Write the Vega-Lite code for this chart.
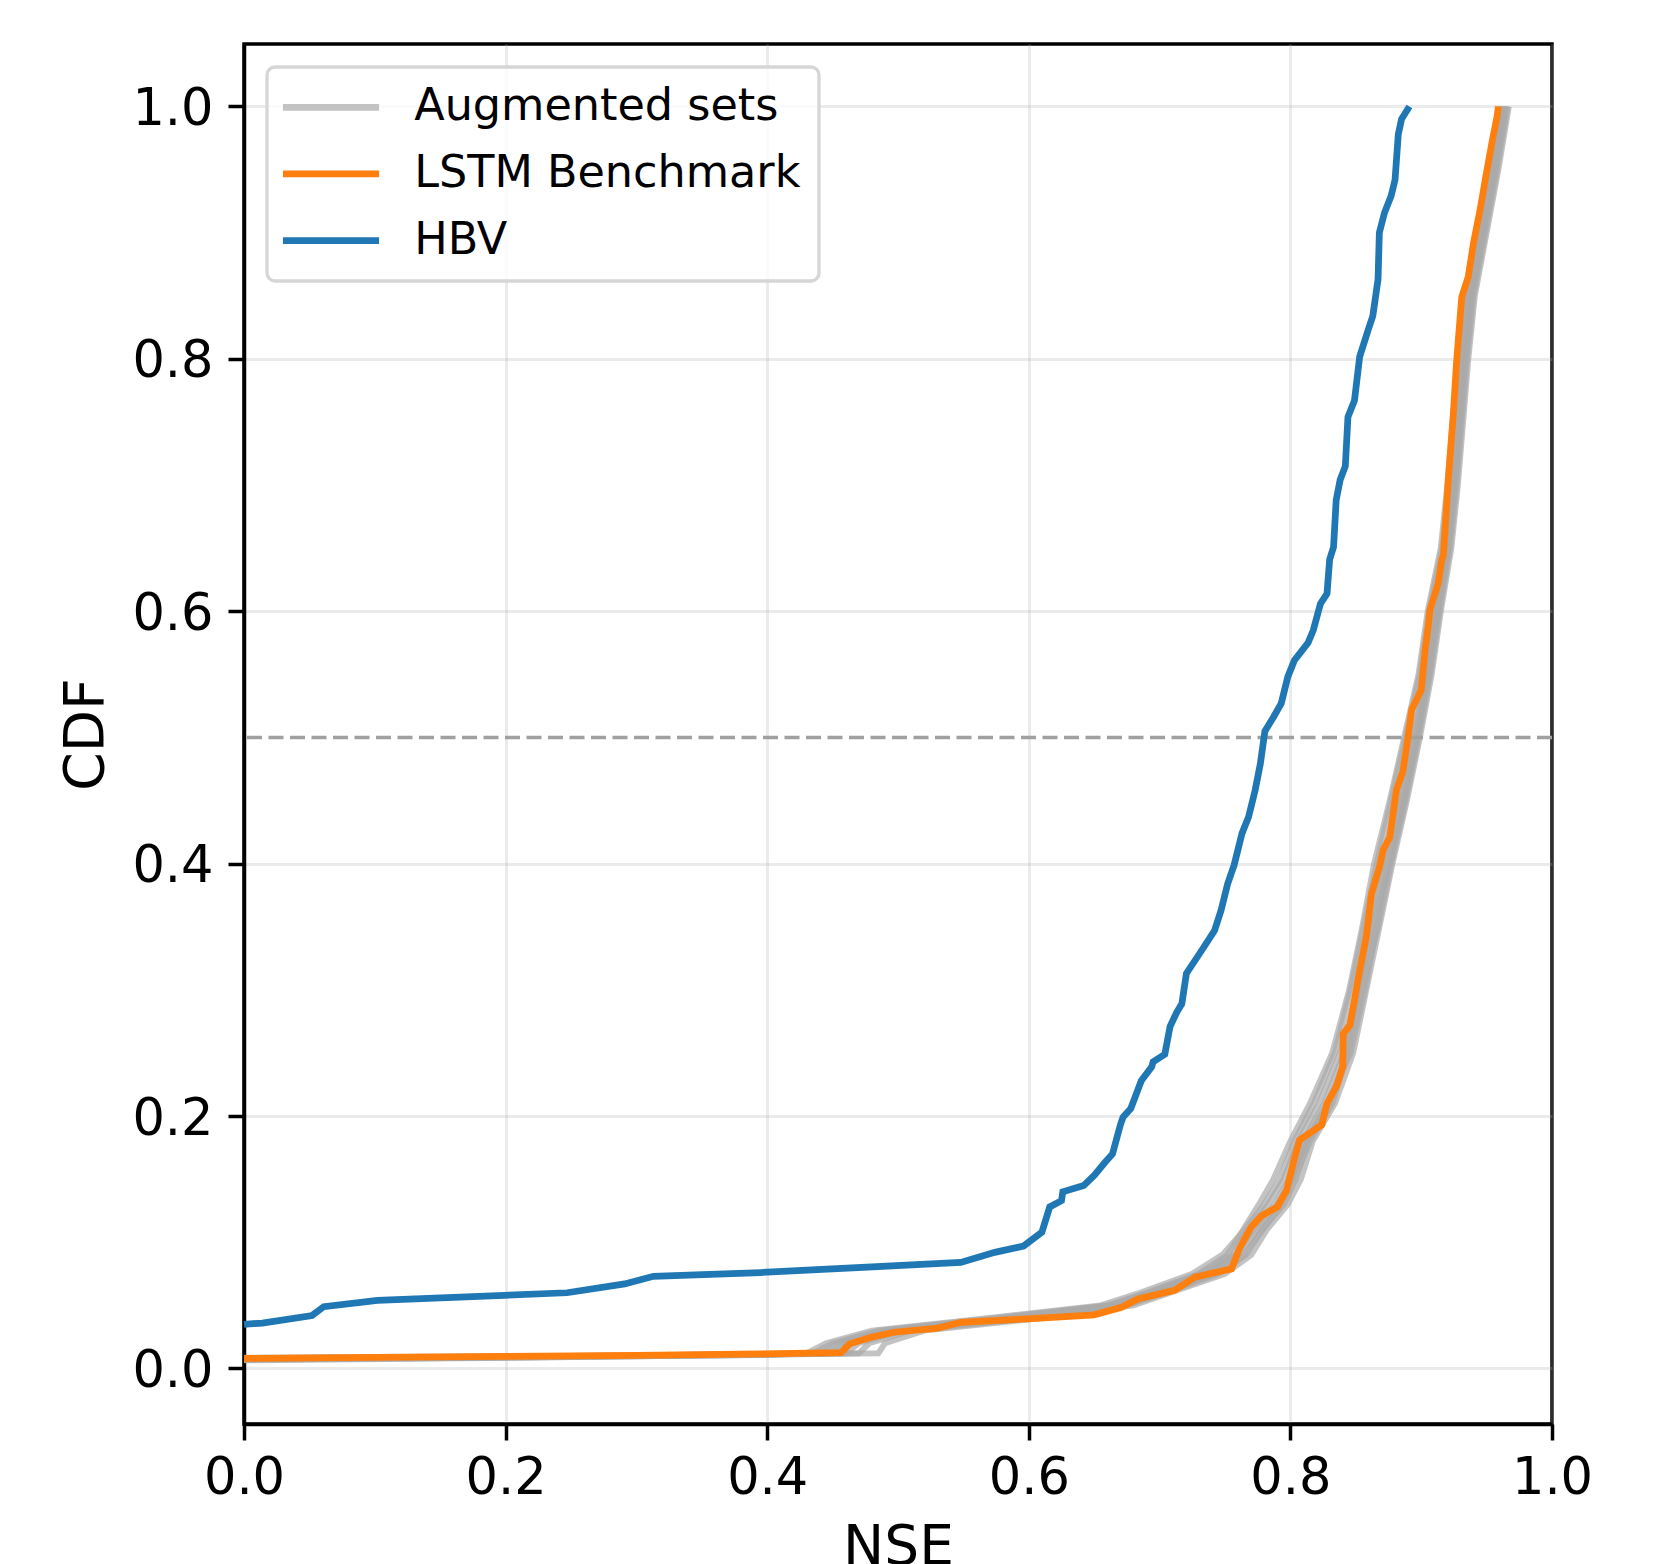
{
  "$schema": "https://vega.github.io/schema/vega-lite/v6.json",
  "width": 1308,
  "height": 1380,
  "autosize": {"type": "none"},
  "padding": {"left": 244, "top": 44, "right": 121, "bottom": 140},
  "background": "white",
  "config": {
    "font": "DejaVu Sans",
    "view": {"stroke": "black", "strokeWidth": 3.5},
    "axis": {
      "domainColor": "black",
      "domainWidth": 3.5,
      "tickColor": "black",
      "tickWidth": 3.5,
      "tickSize": 16,
      "labelFont": "DejaVu Sans",
      "labelFontSize": 51,
      "labelColor": "black",
      "labelFlush": false,
      "titleFont": "DejaVu Sans",
      "titleFontSize": 55,
      "titleFontWeight": "normal",
      "titleColor": "black",
      "gridColor": "#b0b0b0",
      "gridOpacity": 0.25,
      "gridWidth": 3
    },
    "legend": {
      "labelFont": "DejaVu Sans",
      "labelFontSize": 44.5,
      "labelColor": "black",
      "labelLimit": 0,
      "strokeWidth": 3.3
    }
  },
  "datasets": {
    "aug": [
      {"run": "g1", "nse": 0.0, "cdf": 0.0065}, {"run": "g1", "nse": 0.25, "cdf": 0.009}, {"run": "g1", "nse": 0.40, "cdf": 0.011},
      {"run": "g1", "nse": 0.43, "cdf": 0.012}, {"run": "g1", "nse": 0.445, "cdf": 0.02}, {"run": "g1", "nse": 0.48, "cdf": 0.03}, {"run": "g1", "nse": 0.57, "cdf": 0.04}, {"run": "g1", "nse": 0.655, "cdf": 0.05}, {"run": "g1", "nse": 0.685, "cdf": 0.06}, {"run": "g1", "nse": 0.725, "cdf": 0.075}, {"run": "g1", "nse": 0.748, "cdf": 0.09}, {"run": "g1", "nse": 0.765, "cdf": 0.11}, {"run": "g1", "nse": 0.78, "cdf": 0.13}, {"run": "g1", "nse": 0.792, "cdf": 0.15}, {"run": "g1", "nse": 0.803, "cdf": 0.18}, {"run": "g1", "nse": 0.818, "cdf": 0.21}, {"run": "g1", "nse": 0.834, "cdf": 0.25}, {"run": "g1", "nse": 0.846, "cdf": 0.30}, {"run": "g1", "nse": 0.856, "cdf": 0.35}, {"run": "g1", "nse": 0.866, "cdf": 0.40}, {"run": "g1", "nse": 0.877, "cdf": 0.45}, {"run": "g1", "nse": 0.888, "cdf": 0.50}, {"run": "g1", "nse": 0.899, "cdf": 0.55}, {"run": "g1", "nse": 0.906, "cdf": 0.60}, {"run": "g1", "nse": 0.916, "cdf": 0.65}, {"run": "g1", "nse": 0.921, "cdf": 0.70}, {"run": "g1", "nse": 0.925, "cdf": 0.75}, {"run": "g1", "nse": 0.929, "cdf": 0.80}, {"run": "g1", "nse": 0.934, "cdf": 0.85}, {"run": "g1", "nse": 0.943, "cdf": 0.90}, {"run": "g1", "nse": 0.952, "cdf": 0.95}, {"run": "g1", "nse": 0.961, "cdf": 1.0},

      {"run": "g2", "nse": 0.0, "cdf": 0.0075}, {"run": "g2", "nse": 0.25, "cdf": 0.0095}, {"run": "g2", "nse": 0.40, "cdf": 0.0112},
      {"run": "g2", "nse": 0.445, "cdf": 0.012}, {"run": "g2", "nse": 0.46, "cdf": 0.02}, {"run": "g2", "nse": 0.495, "cdf": 0.03}, {"run": "g2", "nse": 0.585, "cdf": 0.04}, {"run": "g2", "nse": 0.665, "cdf": 0.05}, {"run": "g2", "nse": 0.695, "cdf": 0.06}, {"run": "g2", "nse": 0.735, "cdf": 0.075}, {"run": "g2", "nse": 0.758, "cdf": 0.09}, {"run": "g2", "nse": 0.772, "cdf": 0.11}, {"run": "g2", "nse": 0.788, "cdf": 0.13}, {"run": "g2", "nse": 0.799, "cdf": 0.15}, {"run": "g2", "nse": 0.81, "cdf": 0.18}, {"run": "g2", "nse": 0.826, "cdf": 0.21}, {"run": "g2", "nse": 0.841, "cdf": 0.25}, {"run": "g2", "nse": 0.853, "cdf": 0.30}, {"run": "g2", "nse": 0.862, "cdf": 0.35}, {"run": "g2", "nse": 0.872, "cdf": 0.40}, {"run": "g2", "nse": 0.884, "cdf": 0.45}, {"run": "g2", "nse": 0.894, "cdf": 0.50}, {"run": "g2", "nse": 0.904, "cdf": 0.55}, {"run": "g2", "nse": 0.911, "cdf": 0.60}, {"run": "g2", "nse": 0.919, "cdf": 0.65}, {"run": "g2", "nse": 0.924, "cdf": 0.70}, {"run": "g2", "nse": 0.928, "cdf": 0.75}, {"run": "g2", "nse": 0.932, "cdf": 0.80}, {"run": "g2", "nse": 0.937, "cdf": 0.85}, {"run": "g2", "nse": 0.946, "cdf": 0.90}, {"run": "g2", "nse": 0.955, "cdf": 0.95}, {"run": "g2", "nse": 0.963, "cdf": 1.0},

      {"run": "g3", "nse": 0.0, "cdf": 0.007}, {"run": "g3", "nse": 0.25, "cdf": 0.0092}, {"run": "g3", "nse": 0.40, "cdf": 0.0108},
      {"run": "g3", "nse": 0.47, "cdf": 0.012}, {"run": "g3", "nse": 0.478, "cdf": 0.02}, {"run": "g3", "nse": 0.51, "cdf": 0.03}, {"run": "g3", "nse": 0.605, "cdf": 0.04}, {"run": "g3", "nse": 0.675, "cdf": 0.05}, {"run": "g3", "nse": 0.705, "cdf": 0.06}, {"run": "g3", "nse": 0.745, "cdf": 0.075}, {"run": "g3", "nse": 0.766, "cdf": 0.09}, {"run": "g3", "nse": 0.778, "cdf": 0.11}, {"run": "g3", "nse": 0.795, "cdf": 0.13}, {"run": "g3", "nse": 0.804, "cdf": 0.15}, {"run": "g3", "nse": 0.813, "cdf": 0.18}, {"run": "g3", "nse": 0.83, "cdf": 0.21}, {"run": "g3", "nse": 0.843, "cdf": 0.25}, {"run": "g3", "nse": 0.852, "cdf": 0.30}, {"run": "g3", "nse": 0.863, "cdf": 0.35}, {"run": "g3", "nse": 0.876, "cdf": 0.40}, {"run": "g3", "nse": 0.887, "cdf": 0.45}, {"run": "g3", "nse": 0.897, "cdf": 0.50}, {"run": "g3", "nse": 0.906, "cdf": 0.55}, {"run": "g3", "nse": 0.913, "cdf": 0.60}, {"run": "g3", "nse": 0.921, "cdf": 0.65}, {"run": "g3", "nse": 0.926, "cdf": 0.70}, {"run": "g3", "nse": 0.93, "cdf": 0.75}, {"run": "g3", "nse": 0.934, "cdf": 0.80}, {"run": "g3", "nse": 0.939, "cdf": 0.85}, {"run": "g3", "nse": 0.948, "cdf": 0.90}, {"run": "g3", "nse": 0.957, "cdf": 0.95}, {"run": "g3", "nse": 0.965, "cdf": 1.0},

      {"run": "g4", "nse": 0.0, "cdf": 0.008}, {"run": "g4", "nse": 0.25, "cdf": 0.0098}, {"run": "g4", "nse": 0.40, "cdf": 0.0113},
      {"run": "g4", "nse": 0.485, "cdf": 0.012}, {"run": "g4", "nse": 0.49, "cdf": 0.02}, {"run": "g4", "nse": 0.52, "cdf": 0.03}, {"run": "g4", "nse": 0.61, "cdf": 0.04}, {"run": "g4", "nse": 0.68, "cdf": 0.05}, {"run": "g4", "nse": 0.708, "cdf": 0.06}, {"run": "g4", "nse": 0.75, "cdf": 0.075}, {"run": "g4", "nse": 0.77, "cdf": 0.09}, {"run": "g4", "nse": 0.782, "cdf": 0.11}, {"run": "g4", "nse": 0.798, "cdf": 0.13}, {"run": "g4", "nse": 0.808, "cdf": 0.15}, {"run": "g4", "nse": 0.817, "cdf": 0.18}, {"run": "g4", "nse": 0.834, "cdf": 0.21}, {"run": "g4", "nse": 0.848, "cdf": 0.25}, {"run": "g4", "nse": 0.858, "cdf": 0.30}, {"run": "g4", "nse": 0.868, "cdf": 0.35}, {"run": "g4", "nse": 0.878, "cdf": 0.40}, {"run": "g4", "nse": 0.889, "cdf": 0.45}, {"run": "g4", "nse": 0.899, "cdf": 0.50}, {"run": "g4", "nse": 0.908, "cdf": 0.55}, {"run": "g4", "nse": 0.915, "cdf": 0.60}, {"run": "g4", "nse": 0.923, "cdf": 0.65}, {"run": "g4", "nse": 0.928, "cdf": 0.70}, {"run": "g4", "nse": 0.932, "cdf": 0.75}, {"run": "g4", "nse": 0.936, "cdf": 0.80}, {"run": "g4", "nse": 0.941, "cdf": 0.85}, {"run": "g4", "nse": 0.95, "cdf": 0.90}, {"run": "g4", "nse": 0.959, "cdf": 0.95}, {"run": "g4", "nse": 0.967, "cdf": 1.0},

      {"run": "g5", "nse": 0.0, "cdf": 0.0085}, {"run": "g5", "nse": 0.25, "cdf": 0.0099}, {"run": "g5", "nse": 0.40, "cdf": 0.0115},
      {"run": "g5", "nse": 0.435, "cdf": 0.012}, {"run": "g5", "nse": 0.45, "cdf": 0.02}, {"run": "g5", "nse": 0.485, "cdf": 0.03}, {"run": "g5", "nse": 0.575, "cdf": 0.04}, {"run": "g5", "nse": 0.66, "cdf": 0.05}, {"run": "g5", "nse": 0.69, "cdf": 0.06}, {"run": "g5", "nse": 0.73, "cdf": 0.075}, {"run": "g5", "nse": 0.752, "cdf": 0.09}, {"run": "g5", "nse": 0.764, "cdf": 0.11}, {"run": "g5", "nse": 0.776, "cdf": 0.13}, {"run": "g5", "nse": 0.787, "cdf": 0.15}, {"run": "g5", "nse": 0.8, "cdf": 0.18}, {"run": "g5", "nse": 0.815, "cdf": 0.21}, {"run": "g5", "nse": 0.832, "cdf": 0.25}, {"run": "g5", "nse": 0.845, "cdf": 0.30}, {"run": "g5", "nse": 0.855, "cdf": 0.35}, {"run": "g5", "nse": 0.864, "cdf": 0.40}, {"run": "g5", "nse": 0.876, "cdf": 0.45}, {"run": "g5", "nse": 0.887, "cdf": 0.50}, {"run": "g5", "nse": 0.898, "cdf": 0.55}, {"run": "g5", "nse": 0.905, "cdf": 0.60}, {"run": "g5", "nse": 0.915, "cdf": 0.65}, {"run": "g5", "nse": 0.92, "cdf": 0.70}, {"run": "g5", "nse": 0.924, "cdf": 0.75}, {"run": "g5", "nse": 0.928, "cdf": 0.80}, {"run": "g5", "nse": 0.933, "cdf": 0.85}, {"run": "g5", "nse": 0.942, "cdf": 0.90}, {"run": "g5", "nse": 0.951, "cdf": 0.95}, {"run": "g5", "nse": 0.96, "cdf": 1.0},

      {"run": "g6", "nse": 0.0, "cdf": 0.007}, {"run": "g6", "nse": 0.25, "cdf": 0.0091}, {"run": "g6", "nse": 0.40, "cdf": 0.011},
      {"run": "g6", "nse": 0.45, "cdf": 0.012}, {"run": "g6", "nse": 0.465, "cdf": 0.02}, {"run": "g6", "nse": 0.5, "cdf": 0.03}, {"run": "g6", "nse": 0.595, "cdf": 0.04}, {"run": "g6", "nse": 0.67, "cdf": 0.05}, {"run": "g6", "nse": 0.698, "cdf": 0.06}, {"run": "g6", "nse": 0.738, "cdf": 0.075}, {"run": "g6", "nse": 0.76, "cdf": 0.09}, {"run": "g6", "nse": 0.775, "cdf": 0.11}, {"run": "g6", "nse": 0.79, "cdf": 0.13}, {"run": "g6", "nse": 0.801, "cdf": 0.15}, {"run": "g6", "nse": 0.812, "cdf": 0.18}, {"run": "g6", "nse": 0.828, "cdf": 0.21}, {"run": "g6", "nse": 0.846, "cdf": 0.25}, {"run": "g6", "nse": 0.857, "cdf": 0.30}, {"run": "g6", "nse": 0.866, "cdf": 0.35}, {"run": "g6", "nse": 0.874, "cdf": 0.40}, {"run": "g6", "nse": 0.886, "cdf": 0.45}, {"run": "g6", "nse": 0.896, "cdf": 0.50}, {"run": "g6", "nse": 0.905, "cdf": 0.55}, {"run": "g6", "nse": 0.912, "cdf": 0.60}, {"run": "g6", "nse": 0.92, "cdf": 0.65}, {"run": "g6", "nse": 0.925, "cdf": 0.70}, {"run": "g6", "nse": 0.929, "cdf": 0.75}, {"run": "g6", "nse": 0.933, "cdf": 0.80}, {"run": "g6", "nse": 0.938, "cdf": 0.85}, {"run": "g6", "nse": 0.947, "cdf": 0.90}, {"run": "g6", "nse": 0.956, "cdf": 0.95}, {"run": "g6", "nse": 0.964, "cdf": 1.0},

      {"run": "g7", "nse": 0.0, "cdf": 0.0075}, {"run": "g7", "nse": 0.25, "cdf": 0.0094}, {"run": "g7", "nse": 0.40, "cdf": 0.0111},
      {"run": "g7", "nse": 0.44, "cdf": 0.012}, {"run": "g7", "nse": 0.455, "cdf": 0.02}, {"run": "g7", "nse": 0.49, "cdf": 0.03}, {"run": "g7", "nse": 0.58, "cdf": 0.04}, {"run": "g7", "nse": 0.662, "cdf": 0.05}, {"run": "g7", "nse": 0.692, "cdf": 0.06}, {"run": "g7", "nse": 0.732, "cdf": 0.075}, {"run": "g7", "nse": 0.755, "cdf": 0.09}, {"run": "g7", "nse": 0.768, "cdf": 0.11}, {"run": "g7", "nse": 0.783, "cdf": 0.13}, {"run": "g7", "nse": 0.795, "cdf": 0.15}, {"run": "g7", "nse": 0.806, "cdf": 0.18}, {"run": "g7", "nse": 0.822, "cdf": 0.21}, {"run": "g7", "nse": 0.838, "cdf": 0.25}, {"run": "g7", "nse": 0.851, "cdf": 0.30}, {"run": "g7", "nse": 0.86, "cdf": 0.35}, {"run": "g7", "nse": 0.87, "cdf": 0.40}, {"run": "g7", "nse": 0.882, "cdf": 0.45}, {"run": "g7", "nse": 0.892, "cdf": 0.50}, {"run": "g7", "nse": 0.903, "cdf": 0.55}, {"run": "g7", "nse": 0.91, "cdf": 0.60}, {"run": "g7", "nse": 0.918, "cdf": 0.65}, {"run": "g7", "nse": 0.923, "cdf": 0.70}, {"run": "g7", "nse": 0.927, "cdf": 0.75}, {"run": "g7", "nse": 0.931, "cdf": 0.80}, {"run": "g7", "nse": 0.936, "cdf": 0.85}, {"run": "g7", "nse": 0.945, "cdf": 0.90}, {"run": "g7", "nse": 0.954, "cdf": 0.95}, {"run": "g7", "nse": 0.962, "cdf": 1.0},

      {"run": "g8", "nse": 0.0, "cdf": 0.008}, {"run": "g8", "nse": 0.25, "cdf": 0.0096}, {"run": "g8", "nse": 0.40, "cdf": 0.0114},
      {"run": "g8", "nse": 0.46, "cdf": 0.012}, {"run": "g8", "nse": 0.47, "cdf": 0.02}, {"run": "g8", "nse": 0.505, "cdf": 0.03}, {"run": "g8", "nse": 0.6, "cdf": 0.04}, {"run": "g8", "nse": 0.672, "cdf": 0.05}, {"run": "g8", "nse": 0.702, "cdf": 0.06}, {"run": "g8", "nse": 0.742, "cdf": 0.075}, {"run": "g8", "nse": 0.764, "cdf": 0.09}, {"run": "g8", "nse": 0.779, "cdf": 0.11}, {"run": "g8", "nse": 0.793, "cdf": 0.13}, {"run": "g8", "nse": 0.803, "cdf": 0.15}, {"run": "g8", "nse": 0.815, "cdf": 0.18}, {"run": "g8", "nse": 0.832, "cdf": 0.21}, {"run": "g8", "nse": 0.844, "cdf": 0.25}, {"run": "g8", "nse": 0.855, "cdf": 0.30}, {"run": "g8", "nse": 0.867, "cdf": 0.35}, {"run": "g8", "nse": 0.877, "cdf": 0.40}, {"run": "g8", "nse": 0.888, "cdf": 0.45}, {"run": "g8", "nse": 0.898, "cdf": 0.50}, {"run": "g8", "nse": 0.907, "cdf": 0.55}, {"run": "g8", "nse": 0.914, "cdf": 0.60}, {"run": "g8", "nse": 0.922, "cdf": 0.65}, {"run": "g8", "nse": 0.927, "cdf": 0.70}, {"run": "g8", "nse": 0.931, "cdf": 0.75}, {"run": "g8", "nse": 0.935, "cdf": 0.80}, {"run": "g8", "nse": 0.94, "cdf": 0.85}, {"run": "g8", "nse": 0.949, "cdf": 0.90}, {"run": "g8", "nse": 0.958, "cdf": 0.95}, {"run": "g8", "nse": 0.966, "cdf": 1.0}
    ],
    "lstm": [
      {"model": "LSTM Benchmark", "nse": 0.0, "cdf": 0.008}, {"model": "LSTM Benchmark", "nse": 0.1, "cdf": 0.0088}, {"model": "LSTM Benchmark", "nse": 0.2, "cdf": 0.0095}, {"model": "LSTM Benchmark", "nse": 0.3, "cdf": 0.0103}, {"model": "LSTM Benchmark", "nse": 0.395, "cdf": 0.0116}, {"model": "LSTM Benchmark", "nse": 0.4565, "cdf": 0.0125},
      {"model": "LSTM Benchmark", "nse": 0.463, "cdf": 0.0195}, {"model": "LSTM Benchmark", "nse": 0.4795, "cdf": 0.0247}, {"model": "LSTM Benchmark", "nse": 0.497, "cdf": 0.0287}, {"model": "LSTM Benchmark", "nse": 0.5305, "cdf": 0.032}, {"model": "LSTM Benchmark", "nse": 0.548, "cdf": 0.0366}, {"model": "LSTM Benchmark", "nse": 0.599, "cdf": 0.0393}, {"model": "LSTM Benchmark", "nse": 0.65, "cdf": 0.0425}, {"model": "LSTM Benchmark", "nse": 0.671, "cdf": 0.0485}, {"model": "LSTM Benchmark", "nse": 0.6835, "cdf": 0.055}, {"model": "LSTM Benchmark", "nse": 0.7115, "cdf": 0.062}, {"model": "LSTM Benchmark", "nse": 0.727, "cdf": 0.0723}, {"model": "LSTM Benchmark", "nse": 0.755, "cdf": 0.079}, {"model": "LSTM Benchmark", "nse": 0.761, "cdf": 0.095}, {"model": "LSTM Benchmark", "nse": 0.77, "cdf": 0.112}, {"model": "LSTM Benchmark", "nse": 0.778, "cdf": 0.121}, {"model": "LSTM Benchmark", "nse": 0.79, "cdf": 0.128}, {"model": "LSTM Benchmark", "nse": 0.797, "cdf": 0.141}, {"model": "LSTM Benchmark", "nse": 0.803, "cdf": 0.166}, {"model": "LSTM Benchmark", "nse": 0.807, "cdf": 0.181}, {"model": "LSTM Benchmark", "nse": 0.824, "cdf": 0.193}, {"model": "LSTM Benchmark", "nse": 0.828, "cdf": 0.21}, {"model": "LSTM Benchmark", "nse": 0.8355, "cdf": 0.224}, {"model": "LSTM Benchmark", "nse": 0.84, "cdf": 0.239}, {"model": "LSTM Benchmark", "nse": 0.8404, "cdf": 0.2653}, {"model": "LSTM Benchmark", "nse": 0.8455, "cdf": 0.272}, {"model": "LSTM Benchmark", "nse": 0.849, "cdf": 0.292}, {"model": "LSTM Benchmark", "nse": 0.852, "cdf": 0.31}, {"model": "LSTM Benchmark", "nse": 0.858, "cdf": 0.342}, {"model": "LSTM Benchmark", "nse": 0.862, "cdf": 0.376}, {"model": "LSTM Benchmark", "nse": 0.868, "cdf": 0.397}, {"model": "LSTM Benchmark", "nse": 0.871, "cdf": 0.411}, {"model": "LSTM Benchmark", "nse": 0.876, "cdf": 0.421}, {"model": "LSTM Benchmark", "nse": 0.881, "cdf": 0.458}, {"model": "LSTM Benchmark", "nse": 0.886, "cdf": 0.473}, {"model": "LSTM Benchmark", "nse": 0.89, "cdf": 0.5005}, {"model": "LSTM Benchmark", "nse": 0.8927, "cdf": 0.522}, {"model": "LSTM Benchmark", "nse": 0.9, "cdf": 0.5375}, {"model": "LSTM Benchmark", "nse": 0.903, "cdf": 0.569}, {"model": "LSTM Benchmark", "nse": 0.9054, "cdf": 0.588}, {"model": "LSTM Benchmark", "nse": 0.9067, "cdf": 0.601}, {"model": "LSTM Benchmark", "nse": 0.913, "cdf": 0.622}, {"model": "LSTM Benchmark", "nse": 0.9156, "cdf": 0.64}, {"model": "LSTM Benchmark", "nse": 0.917, "cdf": 0.6446}, {"model": "LSTM Benchmark", "nse": 0.9207, "cdf": 0.704}, {"model": "LSTM Benchmark", "nse": 0.9246, "cdf": 0.757}, {"model": "LSTM Benchmark", "nse": 0.927, "cdf": 0.797}, {"model": "LSTM Benchmark", "nse": 0.931, "cdf": 0.849}, {"model": "LSTM Benchmark", "nse": 0.936, "cdf": 0.865}, {"model": "LSTM Benchmark", "nse": 0.94, "cdf": 0.892}, {"model": "LSTM Benchmark", "nse": 0.945, "cdf": 0.918}, {"model": "LSTM Benchmark", "nse": 0.949, "cdf": 0.942}, {"model": "LSTM Benchmark", "nse": 0.954, "cdf": 0.971}, {"model": "LSTM Benchmark", "nse": 0.958, "cdf": 0.992}, {"model": "LSTM Benchmark", "nse": 0.959, "cdf": 1.0}
    ],
    "hbv": [
      {"model": "HBV", "nse": 0.0, "cdf": 0.035}, {"model": "HBV", "nse": 0.014, "cdf": 0.036}, {"model": "HBV", "nse": 0.052, "cdf": 0.042}, {"model": "HBV", "nse": 0.061, "cdf": 0.049}, {"model": "HBV", "nse": 0.102, "cdf": 0.054}, {"model": "HBV", "nse": 0.199, "cdf": 0.058}, {"model": "HBV", "nse": 0.247, "cdf": 0.06}, {"model": "HBV", "nse": 0.291, "cdf": 0.067}, {"model": "HBV", "nse": 0.313, "cdf": 0.073}, {"model": "HBV", "nse": 0.395, "cdf": 0.076}, {"model": "HBV", "nse": 0.548, "cdf": 0.084}, {"model": "HBV", "nse": 0.574, "cdf": 0.092}, {"model": "HBV", "nse": 0.596, "cdf": 0.097}, {"model": "HBV", "nse": 0.61, "cdf": 0.108}, {"model": "HBV", "nse": 0.616, "cdf": 0.128}, {"model": "HBV", "nse": 0.625, "cdf": 0.133}, {"model": "HBV", "nse": 0.626, "cdf": 0.14}, {"model": "HBV", "nse": 0.642, "cdf": 0.145}, {"model": "HBV", "nse": 0.65, "cdf": 0.153}, {"model": "HBV", "nse": 0.658, "cdf": 0.163}, {"model": "HBV", "nse": 0.664, "cdf": 0.17}, {"model": "HBV", "nse": 0.67, "cdf": 0.193}, {"model": "HBV", "nse": 0.672, "cdf": 0.199}, {"model": "HBV", "nse": 0.678, "cdf": 0.206}, {"model": "HBV", "nse": 0.686, "cdf": 0.228}, {"model": "HBV", "nse": 0.694, "cdf": 0.239}, {"model": "HBV", "nse": 0.695, "cdf": 0.243}, {"model": "HBV", "nse": 0.704, "cdf": 0.249}, {"model": "HBV", "nse": 0.708, "cdf": 0.271}, {"model": "HBV", "nse": 0.713, "cdf": 0.282}, {"model": "HBV", "nse": 0.717, "cdf": 0.289}, {"model": "HBV", "nse": 0.7205, "cdf": 0.313}, {"model": "HBV", "nse": 0.732, "cdf": 0.331}, {"model": "HBV", "nse": 0.742, "cdf": 0.347}, {"model": "HBV", "nse": 0.747, "cdf": 0.363}, {"model": "HBV", "nse": 0.752, "cdf": 0.384}, {"model": "HBV", "nse": 0.757, "cdf": 0.399}, {"model": "HBV", "nse": 0.763, "cdf": 0.424}, {"model": "HBV", "nse": 0.768, "cdf": 0.437}, {"model": "HBV", "nse": 0.773, "cdf": 0.458}, {"model": "HBV", "nse": 0.777, "cdf": 0.479}, {"model": "HBV", "nse": 0.7805, "cdf": 0.505}, {"model": "HBV", "nse": 0.787, "cdf": 0.516}, {"model": "HBV", "nse": 0.793, "cdf": 0.527}, {"model": "HBV", "nse": 0.798, "cdf": 0.548}, {"model": "HBV", "nse": 0.803, "cdf": 0.561}, {"model": "HBV", "nse": 0.8135, "cdf": 0.575}, {"model": "HBV", "nse": 0.8175, "cdf": 0.585}, {"model": "HBV", "nse": 0.823, "cdf": 0.606}, {"model": "HBV", "nse": 0.828, "cdf": 0.614}, {"model": "HBV", "nse": 0.83, "cdf": 0.641}, {"model": "HBV", "nse": 0.833, "cdf": 0.651}, {"model": "HBV", "nse": 0.835, "cdf": 0.688}, {"model": "HBV", "nse": 0.838, "cdf": 0.704}, {"model": "HBV", "nse": 0.842, "cdf": 0.715}, {"model": "HBV", "nse": 0.844, "cdf": 0.754}, {"model": "HBV", "nse": 0.849, "cdf": 0.767}, {"model": "HBV", "nse": 0.853, "cdf": 0.802}, {"model": "HBV", "nse": 0.8595, "cdf": 0.823}, {"model": "HBV", "nse": 0.863, "cdf": 0.834}, {"model": "HBV", "nse": 0.867, "cdf": 0.863}, {"model": "HBV", "nse": 0.868, "cdf": 0.9}, {"model": "HBV", "nse": 0.872, "cdf": 0.916}, {"model": "HBV", "nse": 0.877, "cdf": 0.929}, {"model": "HBV", "nse": 0.88, "cdf": 0.942}, {"model": "HBV", "nse": 0.8825, "cdf": 0.978}, {"model": "HBV", "nse": 0.885, "cdf": 0.99}, {"model": "HBV", "nse": 0.891, "cdf": 1.0}
    ]
  },
  "layer": [
    {
      "data": {"name": "aug"},
      "mark": {"type": "line", "stroke": "#a9a9a9", "opacity": 0.7, "strokeWidth": 6},
      "encoding": {
        "x": {
          "field": "nse", "type": "quantitative",
          "scale": {"domain": [0, 1], "nice": false, "zero": false},
          "axis": {"title": "NSE", "values": [0, 0.2, 0.4, 0.6, 0.8, 1.0], "format": ".1f", "labelPadding": 13, "titlePadding": 17}
        },
        "y": {
          "field": "cdf", "type": "quantitative",
          "scale": {"domain": [-0.044, 1.0495], "nice": false, "zero": false},
          "axis": {"title": "CDF", "values": [0, 0.2, 0.4, 0.6, 0.8, 1.0], "format": ".1f", "labelPadding": 15, "labelOffset": 3, "titlePadding": 17}
        },
        "detail": {"field": "run", "type": "nominal"},
        "order": {"field": "cdf", "type": "quantitative"}
      }
    },
    {
      "data": {"values": [{"level": 0.5}]},
      "mark": {"type": "rule", "stroke": "#a0a0a0", "strokeWidth": 3.4, "strokeDash": [15, 6.5]},
      "encoding": {"y": {"field": "level", "type": "quantitative", "title": "CDF"}}
    },
    {
      "data": {"name": "lstm"},
      "mark": {"type": "line", "strokeWidth": 6.75},
      "encoding": {
        "x": {"field": "nse", "type": "quantitative"},
        "y": {"field": "cdf", "type": "quantitative"},
        "order": {"field": "cdf", "type": "quantitative"},
        "color": {
          "field": "model", "type": "nominal",
          "scale": {"domain": ["Augmented sets", "LSTM Benchmark", "HBV"], "range": ["#c3c3c3", "#ff7f0e", "#1f77b4"]},
          "legend": {
            "title": null, "orient": "none", "legendX": 23, "legendY": 23,
            "symbolType": "M-1.52,0H4.49", "symbolSize": 1024, "symbolStrokeWidth": 6.75,
            "labelOffset": 84.7, "rowPadding": 21.7, "padding": 18,
            "strokeColor": "#d6d6d6", "fillColor": "rgba(255,255,255,0.8)", "cornerRadius": 8
          }
        }
      }
    },
    {
      "data": {"name": "hbv"},
      "mark": {"type": "line", "strokeWidth": 6.75},
      "encoding": {
        "x": {"field": "nse", "type": "quantitative"},
        "y": {"field": "cdf", "type": "quantitative"},
        "order": {"field": "cdf", "type": "quantitative"},
        "color": {"field": "model", "type": "nominal"}
      }
    }
  ]
}
